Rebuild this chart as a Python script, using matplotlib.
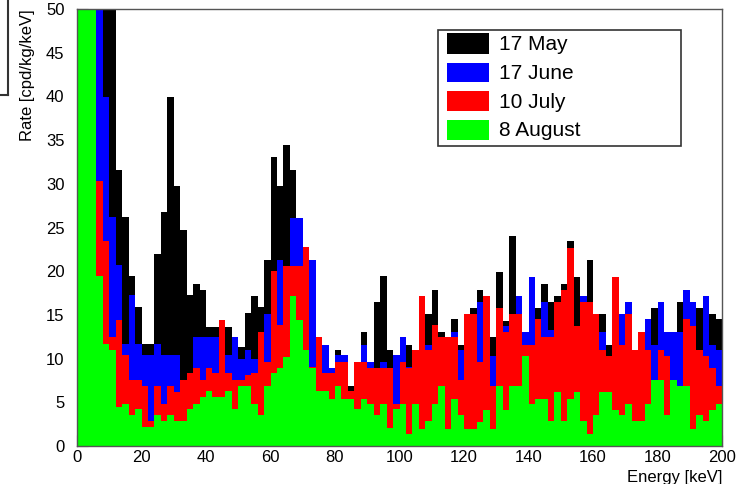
import numpy as np
import matplotlib
matplotlib.use("Agg")
import matplotlib.pyplot as plt
from matplotlib.patches import Rectangle
from matplotlib.lines import Line2D
from matplotlib.ticker import MultipleLocator

plt.rcParams['font.family'] = ['Liberation Sans', 'DejaVu Sans']

# 2 keV bins from 0 to 200 keV
bin_edges = np.arange(0, 202, 2)

labels = ["17 May", "17 June", "10 July", "8 August"]
colors = ["#000000", "#0000ff", "#ff0000", "#00ff00"]

# rate per bin [cpd/kg/keV] for each run
may = [60, 60, 60, 60, 60, 60, 31.6, 26.2, 19.4, 15.9,
       11.7, 11.7, 22.0, 26.8, 39.9, 29.7, 24.7, 17.3, 18.5, 17.8,
       13.6, 13.6, 12.0, 13.6, 12.0, 11.3, 15.2, 17.2, 15.9, 21.3,
       33.1, 29.7, 34.4, 31.6, 25.0, 20.0, 20.0, 10.0, 10.0, 8.0,
       11.0, 9.0, 6.9, 8.0, 13.1, 9.0, 16.5, 19.4, 11.0, 9.0,
       10.0, 11.6, 10.0, 15.0, 15.1, 17.8, 13.1, 12.0, 14.5, 11.6,
       14.0, 15.8, 17.8, 16.0, 12.5, 19.9, 14.3, 24.0, 15.0, 12.0,
       18.0, 15.8, 18.5, 16.5, 17.2, 18.5, 23.4, 19.3, 16.0, 21.3,
       14.0, 15.1, 11.6, 18.0, 14.0, 14.0, 10.0, 12.0, 13.0, 15.8,
       14.0, 12.0, 12.0, 16.5, 16.0, 15.0, 15.8, 15.0, 15.1, 14.5]

june = [60, 60, 60, 60, 39.9, 26.2, 20.7, 11.7, 17.3, 11.7,
        10.4, 10.4, 11.7, 10.4, 10.4, 10.4, 7.0, 7.0, 12.5, 12.5,
        12.5, 12.5, 12.0, 10.4, 12.5, 10.0, 11.0, 10.0, 12.0, 15.1,
        20.0, 21.3, 20.0, 26.1, 26.1, 21.3, 21.3, 10.0, 11.6, 8.9,
        10.4, 10.4, 5.0, 8.0, 11.6, 9.6, 8.0, 9.6, 8.0, 10.4,
        12.5, 9.0, 10.0, 15.0, 11.6, 12.0, 12.0, 12.0, 13.1, 11.0,
        14.0, 14.0, 16.5, 16.0, 10.3, 15.0, 13.7, 14.0, 17.2, 13.1,
        19.3, 14.0, 16.5, 13.3, 15.0, 16.0, 20.0, 13.0, 17.2, 15.0,
        14.0, 13.1, 10.0, 18.0, 15.1, 16.5, 10.0, 12.0, 14.5, 11.6,
        16.5, 13.1, 13.1, 13.1, 17.8, 16.5, 11.0, 17.2, 11.6, 11.0]

july = [60, 60, 60, 30.3, 23.5, 12.5, 14.4, 10.4, 7.5, 7.5,
        6.9, 2.9, 6.9, 4.8, 6.9, 6.2, 7.5, 8.3, 8.9, 7.5,
        8.9, 8.3, 14.4, 8.3, 7.5, 7.5, 8.1, 8.3, 13.1, 9.6,
        20.0, 13.8, 20.6, 20.6, 20.6, 22.8, 9.0, 12.5, 8.3, 8.3,
        9.6, 9.6, 6.3, 9.6, 9.6, 8.9, 8.9, 8.9, 8.9, 4.8,
        9.6, 8.9, 11.0, 17.2, 11.0, 13.8, 12.5, 12.5, 12.5, 7.5,
        15.1, 15.1, 9.6, 17.2, 6.9, 15.8, 13.1, 15.1, 15.1, 11.6,
        11.6, 14.5, 12.5, 12.5, 16.5, 17.9, 22.7, 13.7, 16.5, 16.5,
        15.1, 11.0, 10.3, 19.3, 11.6, 15.1, 11.0, 13.1, 11.0, 7.4,
        11.0, 10.3, 7.0, 6.9, 14.5, 13.7, 11.0, 10.3, 8.9, 6.9]

august = [60, 60, 60, 19.4, 11.7, 11.0, 4.5, 4.8, 3.5, 4.2,
          2.2, 2.2, 3.5, 2.9, 3.5, 2.9, 2.9, 4.2, 4.8, 5.6,
          6.3, 5.6, 5.6, 6.3, 4.2, 6.9, 6.9, 4.8, 3.5, 6.9,
          8.3, 8.9, 10.2, 17.2, 14.4, 11.0, 8.9, 6.3, 6.3, 5.4,
          6.9, 5.4, 5.4, 4.2, 5.4, 4.8, 3.5, 4.8, 2.1, 4.2,
          4.8, 1.4, 4.8, 2.0, 2.9, 4.8, 6.9, 2.0, 5.4, 3.5,
          2.0, 2.0, 2.7, 4.1, 2.0, 6.9, 4.1, 6.9, 6.9, 10.3,
          4.8, 5.4, 5.4, 2.9, 6.2, 2.9, 5.4, 6.2, 2.9, 1.4,
          3.5, 6.2, 6.2, 4.1, 3.5, 4.8, 2.9, 2.9, 4.8, 7.5,
          7.5, 3.5, 7.5, 6.9, 6.9, 2.0, 3.5, 2.9, 4.1, 4.8]

W, H = 739, 484
fig = plt.figure(figsize=(W / 100, H / 100), dpi=100)
ax = fig.add_axes([77 / W, 1 - 446 / H, 645 / W, 437 / H])

# later runs are drawn on top of earlier ones
for vals, col in zip([may, june, july, august], colors):
    ax.stairs(vals, bin_edges, fill=True, color=col, lw=0)

ax.set_xlim(0, 200)
ax.set_ylim(0, 50)
ax.xaxis.set_major_locator(MultipleLocator(20))
ax.xaxis.set_minor_locator(MultipleLocator(4))
ax.yaxis.set_major_locator(MultipleLocator(5))
ax.yaxis.set_minor_locator(MultipleLocator(1))
ax.set_axisbelow(True)
ax.tick_params(which='both', direction='in', labelsize=12, color='#444444')
ax.tick_params(which='major', length=8)
ax.tick_params(which='minor', length=4)
ax.tick_params(axis='y', pad=9)
ax.tick_params(axis='x', pad=3)
for sp in ax.spines.values():
    sp.set_color('#555555')
    sp.set_linewidth(1.0)

ax.set_xlabel("Energy [keV]", fontsize=12, loc='right', va='top')
ax.xaxis.set_label_coords(1.0, -0.055)
ax.set_ylabel("Rate [cpd/kg/keV]", fontsize=12, loc='top', va='center')
ax.yaxis.set_label_coords(-0.076, 1.0)

# legend box, drawn in pixel units
def px(x, y):
    return x / W, 1 - y / H

lx0, ly0 = px(438, 146)
lx1, ly1 = px(681, 30)
fig.add_artist(Rectangle((lx0, ly0), lx1 - lx0, ly1 - ly0, transform=fig.transFigure,
                         facecolor='white', edgecolor='#333333', lw=1.2))
rows = [(33, 54), (63, 82), (91, 111), (120, 140)]
for (top, bot), lab, col in zip(rows, labels, colors):
    x0, y0 = px(447, bot)
    x1, y1 = px(489, top)
    fig.add_artist(Rectangle((x0, y0), x1 - x0, y1 - y0, transform=fig.transFigure,
                             facecolor=col, edgecolor='none'))
    tx, ty = px(499, (top + bot) / 2 + 1)
    fig.text(tx, ty, lab, fontsize=15, va='center', ha='left')

# frame edge of the neighbouring pad in the corner
a, b = px(8, 0)
c, d = px(8, 95)
e, f = px(0, 95)
fig.add_artist(Line2D([a, c], [b, d], transform=fig.transFigure, color='#333333', lw=1.5))
fig.add_artist(Line2D([e, c], [f, d], transform=fig.transFigure, color='#333333', lw=1.5))

fig.savefig("out.png", dpi=100)
